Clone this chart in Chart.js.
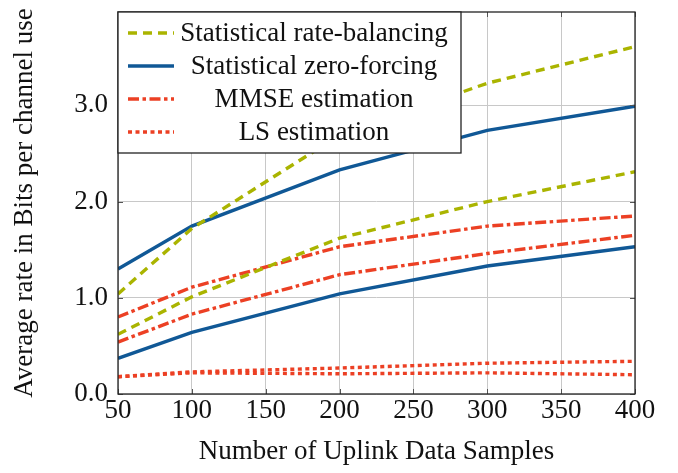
<!DOCTYPE html>
<html lang="en">
<head>
    <meta charset="UTF-8">
    <title>Average rate vs uplink data samples</title>
    <script src="https://cdn.jsdelivr.net/npm/chart.js"></script>
    <style>
        html, body { margin: 0; padding: 0; background: #fff; }
        #wrap { width: 678px; height: 473px; }
    </style>
</head>
<body>
    <div id="wrap"><canvas id="rateChart" width="678" height="473"></canvas></div>
    <script>
        // data
        const samples = [50, 100, 200, 300, 400];
        const xTicks = [50, 100, 150, 200, 250, 300, 350, 400];
        const yTicks = [0, 1, 2, 3];

        const rbHigh = [1.04, 1.72, 2.69, 3.23, 3.61];
        const rbLow = [0.62, 1.01, 1.62, 2.00, 2.31];
        const zfHigh = [1.30, 1.745, 2.33, 2.74, 2.99];
        const zfLow = [0.37, 0.64, 1.04, 1.33, 1.53];
        const mmseHigh = [0.80, 1.11, 1.53, 1.745, 1.85];
        const mmseLow = [0.54, 0.83, 1.24, 1.46, 1.65];
        const lsHigh = [0.18, 0.23, 0.27, 0.32, 0.34];
        const lsLow = [0.18, 0.22, 0.21, 0.22, 0.20];

        const legendNames = ['Statistical rate-balancing', 'Statistical zero-forcing', 'MMSE estimation', 'LS estimation'];

        const GREEN = 'rgb(170,180,0)';
        const BLUE = 'rgb(16,88,150)';
        const RED = 'rgb(236,64,36)';
        const FONT = "'Liberation Serif', 'DejaVu Serif', serif";

        const styles = [
            { color: GREEN, dash: [9, 6] },
            { color: BLUE, dash: [] },
            { color: RED, dash: [11, 3.5, 3.5, 3.5] },
            { color: RED, dash: [4, 3.5] }
        ];

        function pts(vals) {
            return samples.map((x, i) => ({ x: x, y: vals[i] }));
        }

        function series(label, vals, s) {
            return {
                label: label,
                data: pts(vals),
                borderColor: s.color,
                backgroundColor: s.color,
                borderDash: s.dash,
                borderWidth: 3.4,
                pointRadius: 0,
                fill: false,
                tension: 0
            };
        }

        const datasets = [
            series(legendNames[0], rbHigh, styles[0]),
            series(legendNames[0], rbLow, styles[0]),
            series(legendNames[1], zfHigh, styles[1]),
            series(legendNames[1], zfLow, styles[1]),
            series(legendNames[2], mmseHigh, styles[2]),
            series(legendNames[2], mmseLow, styles[2]),
            series(legendNames[3], lsHigh, styles[3]),
            series(legendNames[3], lsLow, styles[3])
        ];

        // frame + inner tick marks, pgfplots style
        const framePlugin = {
            id: 'frame',
            afterDatasetsDraw(chart) {
                const { ctx, chartArea: a, scales } = chart;
                ctx.save();
                ctx.strokeStyle = '#555';
                ctx.lineWidth = 1;
                ctx.beginPath();
                xTicks.forEach(v => {
                    const px = Math.round(scales.x.getPixelForValue(v)) + 0.5;
                    ctx.moveTo(px, a.bottom); ctx.lineTo(px, a.bottom - 5);
                    ctx.moveTo(px, a.top); ctx.lineTo(px, a.top + 5);
                });
                yTicks.forEach(v => {
                    const py = Math.round(scales.y.getPixelForValue(v)) + 0.5;
                    ctx.moveTo(a.left, py); ctx.lineTo(a.left + 5, py);
                    ctx.moveTo(a.right, py); ctx.lineTo(a.right - 5, py);
                });
                ctx.stroke();
                ctx.strokeStyle = '#222';
                ctx.lineWidth = 1.3;
                ctx.strokeRect(a.left, a.top, a.right - a.left, a.bottom - a.top);
                ctx.restore();
            }
        };

        // boxed legend in the upper left corner
        const legendBox = {
            id: 'legendBox',
            afterDraw(chart) {
                const { ctx, chartArea: a } = chart;
                const x0 = a.left, y0 = a.top, w = 343, h = 141;
                const rows = [21, 54, 87, 120];
                ctx.save();
                ctx.fillStyle = '#fff';
                ctx.fillRect(x0, y0, w, h);
                ctx.strokeStyle = '#222';
                ctx.lineWidth = 1.3;
                ctx.strokeRect(x0, y0, w, h);
                ctx.font = '27px ' + FONT;
                ctx.textAlign = 'center';
                ctx.textBaseline = 'middle';
                legendNames.forEach((name, i) => {
                    const y = y0 + rows[i];
                    ctx.strokeStyle = styles[i].color;
                    ctx.lineWidth = 3.4;
                    ctx.setLineDash(styles[i].dash);
                    ctx.beginPath();
                    ctx.moveTo(x0 + 10, y);
                    ctx.lineTo(x0 + 56, y);
                    ctx.stroke();
                    ctx.setLineDash([]);
                    ctx.fillStyle = '#111';
                    ctx.fillText(name, x0 + 196, y + 1);
                });
                ctx.restore();
            }
        };

        const ctx = document.getElementById('rateChart').getContext('2d');
        const rateChart = new Chart(ctx, {
            type: 'line',
            data: { datasets: datasets },
            plugins: [framePlugin, legendBox],
            options: {
                responsive: false,
                animation: false,
                layout: { padding: { left: 0, right: 43, top: 12, bottom: 0 } },
                plugins: {
                    legend: { display: false },
                    tooltip: { enabled: false }
                },
                scales: {
                    x: {
                        type: 'linear',
                        min: 50,
                        max: 400,
                        afterBuildTicks: s => { s.ticks = xTicks.map(v => ({ value: v })); },
                        afterFit: s => { s.height = 79; s.paddingLeft = 0; s.paddingRight = 0; },
                        ticks: {
                            color: '#111',
                            font: { family: FONT, size: 27 },
                            padding: 1,
                            maxRotation: 0
                        },
                        grid: { color: '#c8c8c8', lineWidth: 1, drawTicks: false },
                        border: { display: false },
                        title: {
                            display: true,
                            text: 'Number of Uplink Data Samples',
                            color: '#111',
                            font: { family: FONT, size: 27 },
                            padding: { top: 0, bottom: 5 }
                        }
                    },
                    y: {
                        type: 'linear',
                        min: 0,
                        max: 3.97,
                        afterBuildTicks: s => { s.ticks = yTicks.map(v => ({ value: v })); },
                        afterFit: s => { s.width = 118; s.paddingTop = 0; s.paddingBottom = 0; },
                        ticks: {
                            color: '#111',
                            font: { family: FONT, size: 27 },
                            padding: 10,
                            callback: v => Number(v).toFixed(1)
                        },
                        grid: { color: '#c8c8c8', lineWidth: 1, drawTicks: false },
                        border: { display: false },
                        title: {
                            display: true,
                            text: 'Average rate in Bits per channel use',
                            color: '#111',
                            font: { family: FONT, size: 27 },
                            padding: { top: 9, bottom: 0 }
                        }
                    }
                }
            }
        });
    </script>
</body>
</html>
